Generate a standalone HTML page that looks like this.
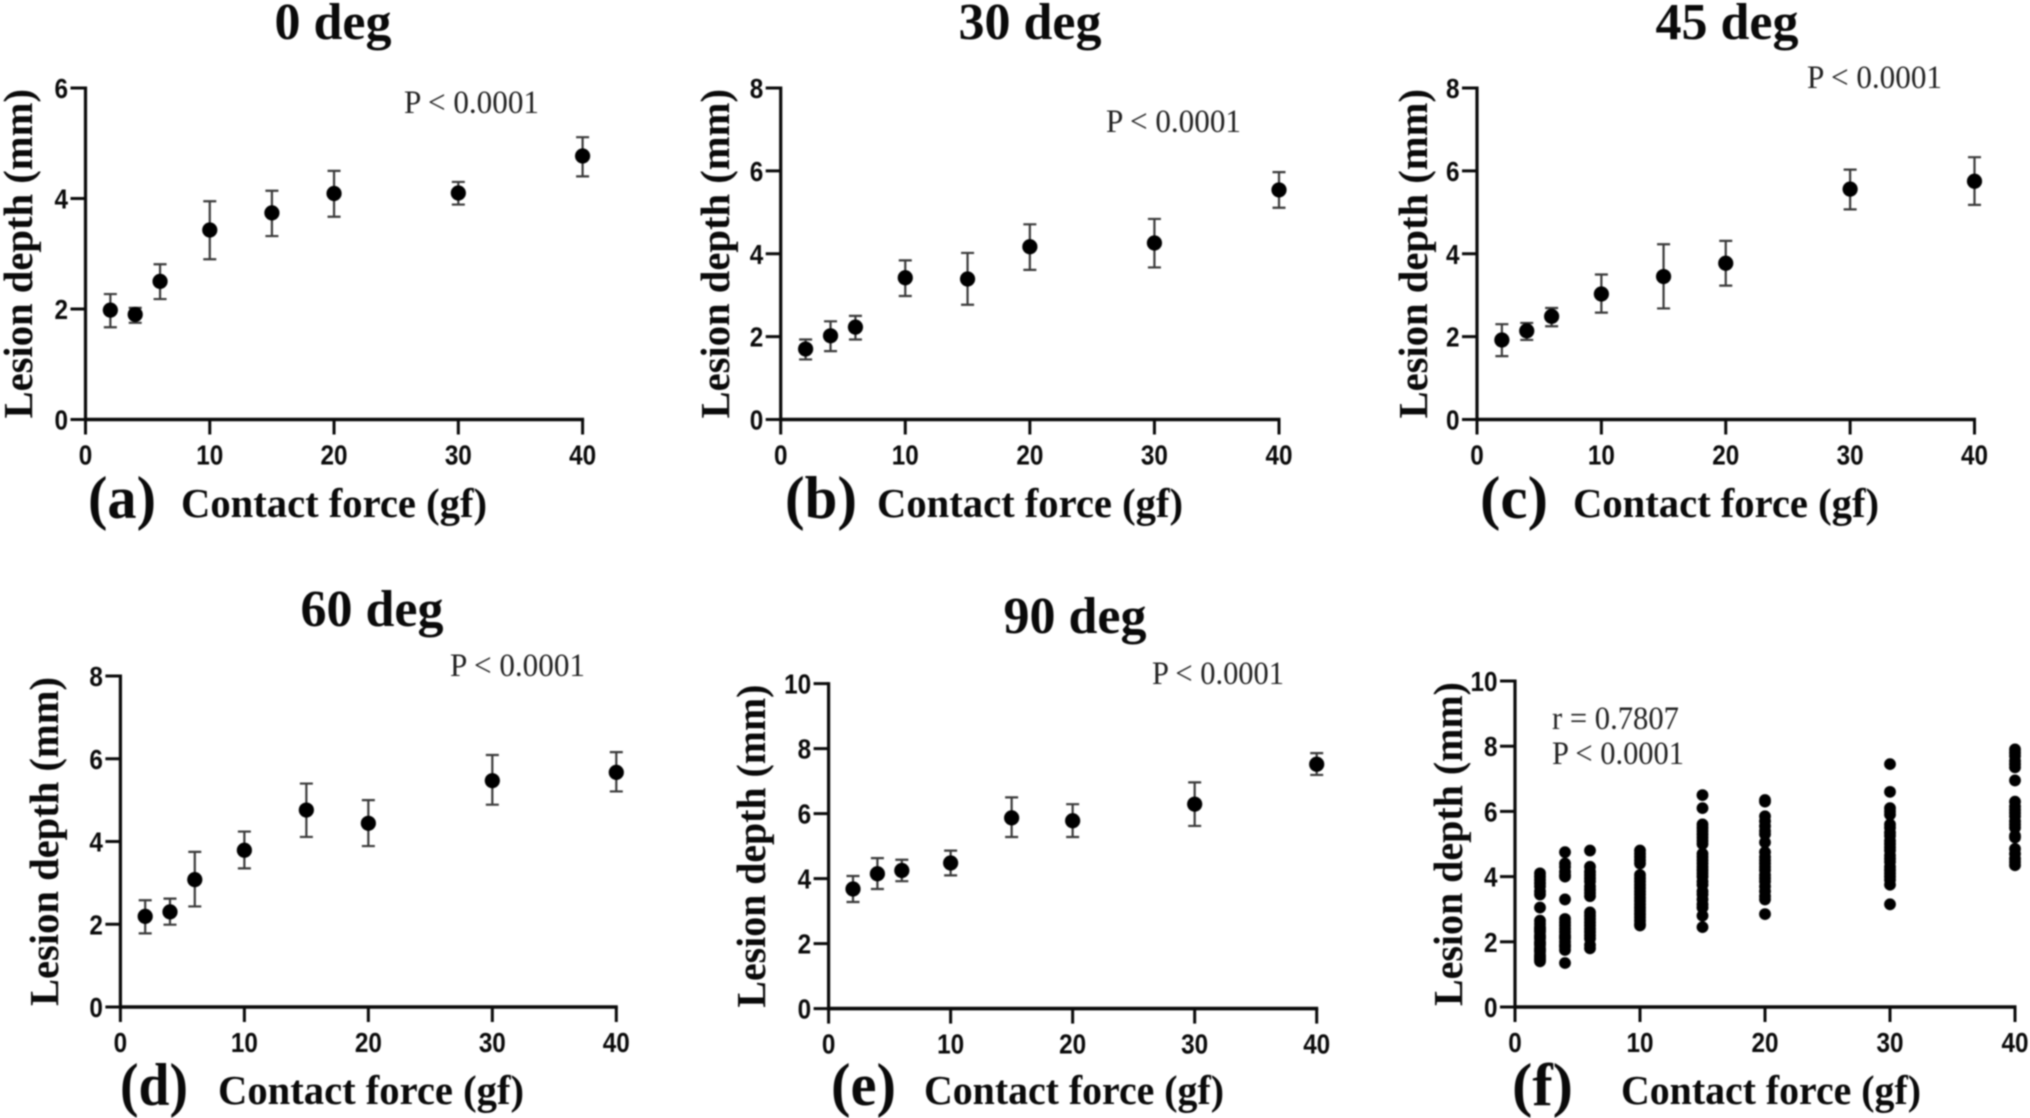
<!DOCTYPE html>
<html lang="en">
<head>
<meta charset="utf-8">
<title>Lesion depth vs contact force</title>
<style>
html,body{margin:0;padding:0;background:#fff;width:2030px;height:1118px;overflow:hidden}
svg{display:block;filter:blur(0.9px)}
</style>
</head>
<body>
<svg id="figure" xmlns="http://www.w3.org/2000/svg" width="2030" height="1118" viewBox="0 0 2030 1118"></svg>
<script>
// ---- shared categories and ticks ----
const forces = [2, 4, 6, 10, 15, 20, 30, 40];
const xTickLabels = [0, 10, 20, 30, 40];
const yTicks6 = [0, 2, 4, 6];
const yTicks8 = [0, 2, 4, 6, 8];
const yTicks10 = [0, 2, 4, 6, 8, 10];

// ---- panel (a) 0 deg ----
const meanA = [1.98, 1.90, 2.50, 3.43, 3.74, 4.09, 4.10, 4.77];
const upperA = [2.27, 2.02, 2.81, 3.95, 4.14, 4.50, 4.30, 5.11];
const lowerA = [1.67, 1.75, 2.18, 2.90, 3.32, 3.67, 3.89, 4.40];
// ---- panel (b) 30 deg ----
const meanB = [1.70, 2.02, 2.23, 3.42, 3.39, 4.17, 4.26, 5.54];
const upperB = [1.93, 2.37, 2.50, 3.84, 4.02, 4.71, 4.84, 5.97];
const lowerB = [1.45, 1.65, 1.93, 2.98, 2.77, 3.61, 3.67, 5.11];
// ---- panel (c) 45 deg ----
const meanC = [1.92, 2.14, 2.49, 3.03, 3.45, 3.77, 5.56, 5.75];
const upperC = [2.30, 2.33, 2.69, 3.50, 4.23, 4.31, 6.03, 6.33];
const lowerC = [1.53, 1.92, 2.25, 2.58, 2.68, 3.23, 5.07, 5.18];
// ---- panel (d) 60 deg ----
const meanD = [2.19, 2.30, 3.08, 3.79, 4.76, 4.44, 5.47, 5.67];
const upperD = [2.58, 2.62, 3.75, 4.24, 5.40, 5.00, 6.09, 6.16];
const lowerD = [1.78, 1.99, 2.43, 3.35, 4.11, 3.89, 4.89, 5.21];
// ---- panel (e) 90 deg ----
const meanE = [3.68, 4.15, 4.25, 4.48, 5.87, 5.78, 6.29, 7.52];
const upperE = [4.08, 4.63, 4.58, 4.86, 6.50, 6.29, 6.96, 7.86];
const lowerE = [3.28, 3.68, 3.92, 4.10, 5.28, 5.28, 5.62, 7.19];
// ---- panel (f) pooled scatter ----
const scatter2 = [1.4,1.45,1.5,1.55,1.6,1.7,1.75,1.8,1.9,1.95,2.0,2.1,2.15,2.2,2.3,2.35,2.4,2.45,2.55,2.65,3.05,3.45,3.55,3.7,3.8,3.9,4.0,4.1];
const scatter4 = [1.35,1.75,1.85,1.9,2.0,2.1,2.15,2.2,2.3,2.4,2.5,2.6,2.7,3.3,4.0,4.05,4.15,4.3,4.4,4.75];
const scatter6 = [1.8,1.9,2.1,2.2,2.3,2.4,2.5,2.6,2.7,2.8,2.9,3.4,3.5,3.6,3.7,3.85,3.95,4.05,4.15,4.3,4.8];
const scatter10 = [2.5,2.55,2.65,2.75,2.85,2.95,3.05,3.15,3.25,3.35,3.45,3.55,3.65,3.75,3.85,3.95,4.05,4.4,4.5,4.6,4.7,4.8];
const scatter15 = [2.45,2.8,3.05,3.15,3.3,3.45,3.55,3.75,3.85,4.0,4.1,4.2,4.3,4.4,4.5,4.6,4.7,5.0,5.1,5.2,5.3,5.4,5.5,5.6,6.1,6.5];
const scatter20 = [2.85,3.3,3.4,3.55,3.7,3.85,3.95,4.05,4.2,4.3,4.4,4.5,4.6,4.75,5.05,5.3,5.4,5.55,5.7,5.85,6.3,6.35];
const scatter30 = [3.15,3.75,3.9,4.0,4.1,4.2,4.3,4.45,4.55,4.65,4.8,4.9,5.0,5.1,5.25,5.35,5.5,5.6,5.9,6.0,6.1,6.6,7.45];
const scatter40 = [4.35,4.45,4.55,4.7,4.85,5.2,5.25,5.5,5.6,5.7,5.85,5.95,6.05,6.15,6.3,6.95,7.35,7.45,7.55,7.7,7.8,7.9];
const scatterSets = [scatter2, scatter4, scatter6, scatter10, scatter15, scatter20, scatter30, scatter40];

// ---- layout (pixels) ----
const layoutA = {key:'a',x0:85.5,x1:582.6,y0:419.5,y1:88,yMax:6,yTicks:yTicks6,title:'0 deg',titleX:333,titleY:39,letter:'(a)',letterX:88,letterW:68,footY:517,forceX:181,forceW:306,depthX:32,pLines:[['P < 0.0001',404,113,135]]};
const layoutB = {key:'b',x0:780.7,x1:1279,y0:419.5,y1:88,yMax:8,yTicks:yTicks8,title:'30 deg',titleX:1030,titleY:39,letter:'(b)',letterX:785,letterW:72,footY:517,forceX:877,forceW:306,depthX:729,pLines:[['P < 0.0001',1106,132,135]]};
const layoutC = {key:'c',x0:1477,x1:1974.5,y0:419.5,y1:88,yMax:8,yTicks:yTicks8,title:'45 deg',titleX:1727,titleY:39,letter:'(c)',letterX:1480,letterW:68,footY:517,forceX:1573,forceW:306,depthX:1427,pLines:[['P < 0.0001',1807,88,135]]};
const layoutD = {key:'d',x0:120.4,x1:616.3,y0:1007,y1:676,yMax:8,yTicks:yTicks8,title:'60 deg',titleX:372,titleY:626,letter:'(d)',letterX:120,letterW:68,footY:1104,forceX:218,forceW:306,depthX:58,pLines:[['P < 0.0001',450,676,135]]};
const layoutE = {key:'e',x0:828.6,x1:1316.7,y0:1008.6,y1:683.6,yMax:10,yTicks:yTicks10,title:'90 deg',titleX:1075,titleY:633,letter:'(e)',letterX:831,letterW:65,footY:1104,forceX:924,forceW:300,depthX:765,pLines:[['P < 0.0001',1152,684,132]]};
const layoutF = {key:'f',x0:1515,x1:2015,y0:1007,y1:681,yMax:10,yTicks:yTicks10,title:'',titleX:0,titleY:0,letter:'(f)',letterX:1512,letterW:61,footY:1104,forceX:1621,forceW:300,depthX:1462,pLines:[['r = 0.7807',1552,729,127],['P < 0.0001',1552,764,132]]};

const SVG_NS = 'http://www.w3.org/2000/svg';
const svg = document.getElementById('figure');
const SERIF = '"Liberation Serif", serif';
const SANS = '"Liberation Sans", sans-serif';
const INK = '#0a0a0a';

function make(parent, tag, attrs, content) {
  const node = document.createElementNS(SVG_NS, tag);
  for (const k in attrs) node.setAttribute(k, attrs[k]);
  if (content !== undefined) node.textContent = content;
  parent.appendChild(node);
  return node;
}
function xScale(L, v) { return L.x0 + (L.x1 - L.x0) * v / 40; }
function yScale(L, v) { return L.y0 - (L.y0 - L.y1) * v / L.yMax; }

function drawFrame(L) {
  const g = make(svg, 'g', {});
  
  

  if (L.title) {
    const t = make(g, 'text', {x:L.titleX, y:L.titleY, 'text-anchor':'middle', 'font-family':SERIF, 'font-weight':'bold', 'font-size':52, fill:INK}, L.title);
    
    
  }

  const yAxis = make(g, 'line', {x1:L.x0, x2:L.x0, y1:L.y1 - 1.5, y2:L.y0 + 1.5, stroke:INK, 'stroke-width':3.2});
  
  
  const xAxis = make(g, 'line', {x1:L.x0, x2:L.x1 + 1.5, y1:L.y0, y2:L.y0, stroke:INK, 'stroke-width':3.6});
  
  

  L.yTicks.forEach(function (v) {
    const y = yScale(L, v);
    const tick = make(g, 'line', {x1:L.x0 - 15, x2:L.x0, y1:y, y2:y, stroke:INK, 'stroke-width':3});
    
    
    const s = String(v);
    const lab = make(g, 'text', {x:L.x0 - 17.5, y:y + 10, 'text-anchor':'end', 'font-family':SANS, 'font-weight':'bold', 'font-size':28, fill:INK, textLength:s.length * 13.5, lengthAdjust:'spacingAndGlyphs'}, s);
    
    
  });

  xTickLabels.forEach(function (v) {
    const x = xScale(L, v);
    const tick = make(g, 'line', {x1:x, x2:x, y1:L.y0, y2:L.y0 + 15, stroke:INK, 'stroke-width':3});
    
    
    const s = String(v);
    const lab = make(g, 'text', {x:x, y:L.y0 + 45, 'text-anchor':'middle', 'font-family':SANS, 'font-weight':'bold', 'font-size':28, fill:INK, textLength:s.length * 13.5, lengthAdjust:'spacingAndGlyphs'}, s);
    
    
  });

  const depthCy = (L.y0 + L.y1) / 2;
  const depth = make(g, 'text', {x:0, y:0, transform:'translate(' + L.depthX + ' ' + depthCy + ') rotate(-90)', 'text-anchor':'middle', 'font-family':SERIF, 'font-weight':'bold', 'font-size':41, fill:INK, textLength:L.y0 - L.y1 - 2, lengthAdjust:'spacingAndGlyphs'}, 'Lesion depth (mm)');
  
  

  const letter = make(g, 'text', {x:L.letterX, y:L.footY + 1, 'font-family':SERIF, 'font-weight':'bold', 'font-size':60, fill:INK, textLength:L.letterW, lengthAdjust:'spacingAndGlyphs'}, L.letter);
  
  

  const force = make(g, 'text', {x:L.forceX, y:L.footY, 'font-family':SERIF, 'font-weight':'bold', 'font-size':41, fill:INK, textLength:L.forceW, lengthAdjust:'spacingAndGlyphs'}, 'Contact force (gf)');
  
  

  L.pLines.forEach(function (p) {
    const note = make(g, 'text', {x:p[1], y:p[2], 'font-family':SERIF, 'font-size':33, fill:'#222', textLength:p[3], lengthAdjust:'spacingAndGlyphs'}, p[0]);
    
    
  });
  return g;
}

function drawErrorPanel(L, means, uppers, lowers) {
  const g = drawFrame(L);
  forces.forEach(function (f, i) {
    const x = xScale(L, f);
    const yU = yScale(L, uppers[i]);
    const yL = yScale(L, lowers[i]);
    const stem = make(g, 'path', {d:'M' + (x - 6.5) + ' ' + yU + 'H' + (x + 6.5) + 'M' + x + ' ' + yU + 'V' + yL + 'M' + (x - 6.5) + ' ' + yL + 'H' + (x + 6.5), stroke:'#3a3a3a', 'stroke-width':2.2, fill:'none'});
    
    
    const dot = make(g, 'circle', {cx:x, cy:yScale(L, means[i]), r:7.6, fill:'#000'});
    
    
  });
}

function drawScatterPanel(L, sets) {
  const g = drawFrame(L);
  forces.forEach(function (f, i) {
    sets[i].forEach(function (v) {
      const dot = make(g, 'circle', {cx:xScale(L, f), cy:yScale(L, v), r:5.9, fill:'#000'});
      
      
    });
  });
}

drawErrorPanel(layoutA, meanA, upperA, lowerA);
drawErrorPanel(layoutB, meanB, upperB, lowerB);
drawErrorPanel(layoutC, meanC, upperC, lowerC);
drawErrorPanel(layoutD, meanD, upperD, lowerD);
drawErrorPanel(layoutE, meanE, upperE, lowerE);
drawScatterPanel(layoutF, scatterSets);
</script>
</body>
</html>
